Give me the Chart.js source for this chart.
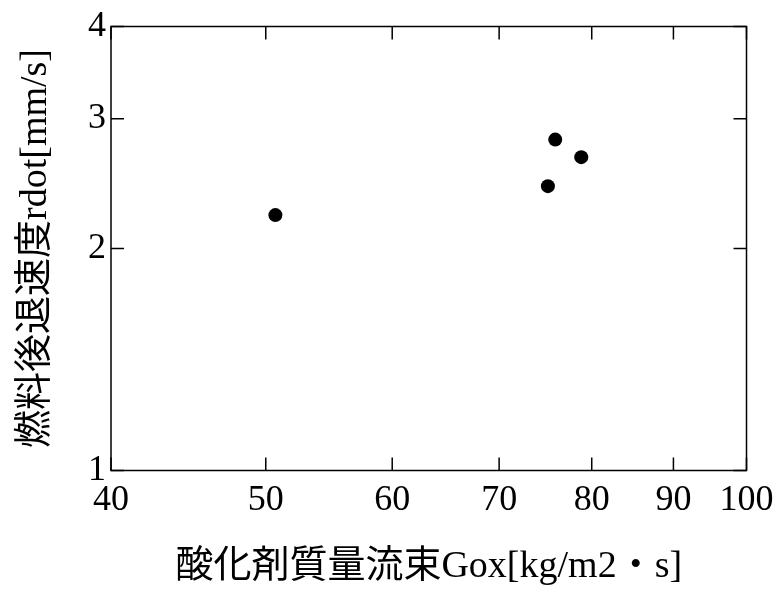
<!DOCTYPE html>
<html>
<head>
<meta charset="utf-8">
<script src="https://cdn.jsdelivr.net/npm/chart.js@4/dist/chart.umd.min.js"></script>
<style>
  html, body { margin: 0; padding: 0; background: #ffffff; }
  #wrap { width: 778px; height: 590px; }
</style>
</head>
<body>
<div id="wrap"><canvas id="c" width="778" height="590"></canvas></div>
<script>
// Data
const gox = [50.7, 75.1, 75.9, 78.8];          // 酸化剤質量流束 Gox [kg/m2・s]
const rdot = [2.22, 2.43, 2.81, 2.66];         // 燃料後退速度 rdot [mm/s]
const xTickValues = [40, 50, 60, 70, 80, 90, 100];
const yTickValues = [1, 2, 3, 4];
const xTitle = '酸化剤質量流束Gox[kg/m2・s]';
const yTitle = '燃料後退速度rdot[mm/s]';

const points = gox.map((x, i) => ({ x: x, y: rdot[i] }));

const FONT = '"Liberation Serif", "Noto Sans CJK JP", serif';

const frameTicks = {
  id: 'frameTicks',
  afterDatasetsDraw(chart) {
    const { ctx, chartArea: a, scales } = chart;
    const xs = scales.x, ys = scales.y;
    const L = 13;
    ctx.save();
    ctx.strokeStyle = '#000';
    ctx.lineWidth = 1.5;
    ctx.strokeRect(a.left, a.top, a.right - a.left, a.bottom - a.top);
    ctx.beginPath();
    xTickValues.forEach(v => {
      const px = xs.getPixelForValue(v);
      ctx.moveTo(px, a.bottom); ctx.lineTo(px, a.bottom - L);
      ctx.moveTo(px, a.top); ctx.lineTo(px, a.top + L);
    });
    yTickValues.forEach(v => {
      const py = ys.getPixelForValue(v);
      ctx.moveTo(a.left, py); ctx.lineTo(a.left + L, py);
      ctx.moveTo(a.right, py); ctx.lineTo(a.right - L, py);
    });
    ctx.stroke();
    ctx.restore();
  }
};

new Chart(document.getElementById('c'), {
  type: 'scatter',
  data: {
    datasets: [{
      data: points,
      pointRadius: 7,
      pointHoverRadius: 7,
      pointBackgroundColor: '#000',
      pointBorderColor: '#000',
      pointBorderWidth: 0,
      showLine: false
    }]
  },
  options: {
    responsive: false,
    devicePixelRatio: 1,
    animation: false,
    events: [],
    layout: { padding: { left: 0, top: 26.5, right: 31.5, bottom: 0 } },
    plugins: { legend: { display: false }, tooltip: { enabled: false } },
    scales: {
      x: {
        type: 'logarithmic',
        min: 40, max: 100,
        grid: { display: false, drawTicks: false },
        border: { display: false },
        afterBuildTicks: s => { s.ticks = xTickValues.map(v => ({ value: v })); },
        afterFit: s => { s.height = 119.5; s.paddingLeft = 0; s.paddingRight = 0; },
        ticks: {
          autoSkip: false, maxRotation: 0, padding: 8,
          color: '#000',
          font: { family: FONT, size: 36 },
          callback: v => String(v)
        },
        title: {
          display: true, text: xTitle, color: '#000',
          font: { family: FONT, size: 38 },
          padding: { top: 0, bottom: 0 }
        }
      },
      y: {
        type: 'logarithmic',
        min: 1, max: 4,
        grid: { display: false, drawTicks: false },
        border: { display: false },
        afterBuildTicks: s => { s.ticks = yTickValues.map(v => ({ value: v })); },
        afterFit: s => { s.width = 111; s.paddingTop = 0; s.paddingBottom = 0; },
        ticks: {
          autoSkip: false, padding: 5,
          color: '#000',
          font: { family: FONT, size: 36 },
          callback: v => String(v)
        },
        title: {
          display: true, text: yTitle, color: '#000',
          font: { family: FONT, size: 38 },
          padding: { top: 13, bottom: 0 }
        }
      }
    }
  },
  plugins: [frameTicks]
});
</script>
</body>
</html>
